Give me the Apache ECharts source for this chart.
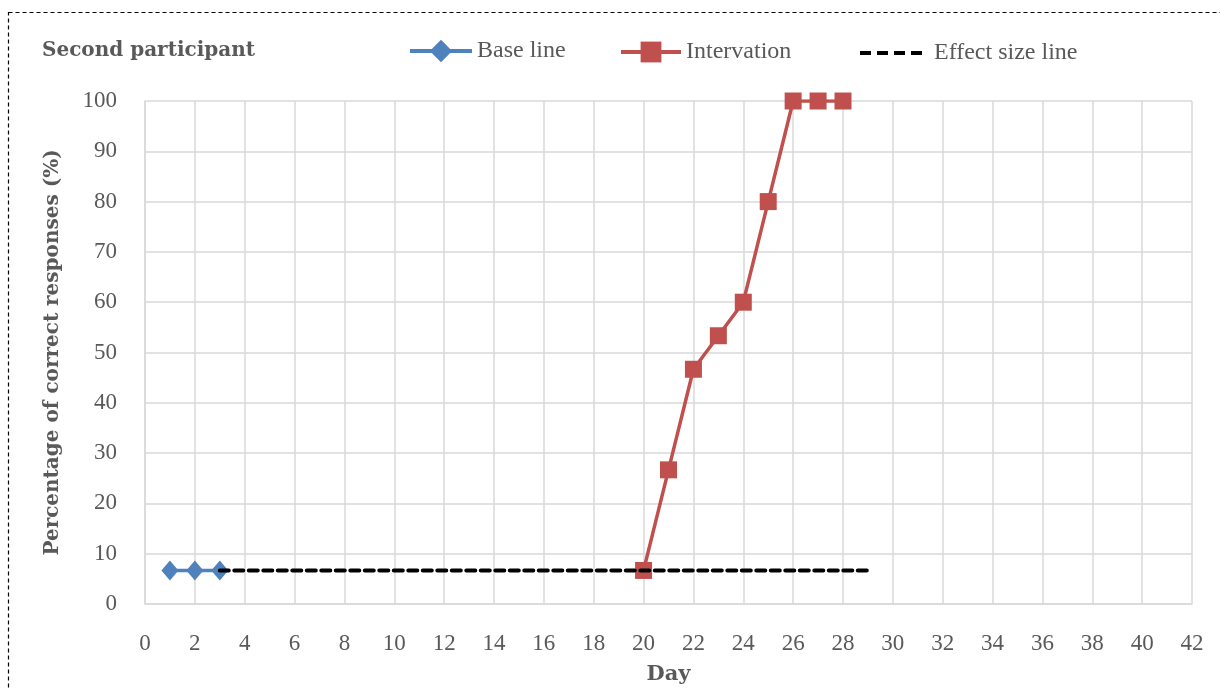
<!DOCTYPE html>
<html>
<head>
<meta charset="utf-8">
<script src="https://cdn.jsdelivr.net/npm/echarts@6/dist/echarts.min.js"></script>
<style>
    html, body { margin: 0; padding: 0; background: #fff; }
    #chart { width: 1220px; height: 688px; }
</style>
</head>
<body>
<div id="chart"></div>
<script>
    // 数据
    var baseDays = [1, 2, 3];
    var baseValues = [6.67, 6.67, 6.67];
    var interDays = [20, 21, 22, 23, 24, 25, 26, 27, 28];
    var interValues = [6.67, 26.67, 46.67, 53.33, 60, 80, 100, 100, 100];
    var effectDays = [3, 29];
    var effectValues = [6.67, 6.67];

    function pairs(xs, ys) {
        return xs.map(function (x, i) { return [x, ys[i]]; });
    }

    var font = '"Liberation Serif", "DejaVu Serif", serif';
    var wideFont = '"DejaVu Serif", serif';
    var grey = '#595959';
    var legendText = { fontFamily: font, fontSize: 24, color: grey };

    var myChart = echarts.init(document.getElementById('chart'));
    myChart.setOption({
        animation: false,
        textStyle: { fontFamily: font },
        title: {
            text: 'Second participant',
            left: 37,
            top: 36,
            textStyle: {
                fontFamily: wideFont,
                fontSize: 20,
                fontWeight: 'bold',
                color: grey
            }
        },
        legend: [
            {
                left: 403,
                top: 34,
                itemWidth: 62,
                itemHeight: 28,
                textStyle: legendText,
                data: [{ name: 'Base line', lineStyle: { width: 4 } }]
            },
            {
                left: 614,
                top: 35,
                itemWidth: 60,
                itemHeight: 26,
                textStyle: legendText,
                data: [{ name: 'Intervation', lineStyle: { width: 4 } }]
            },
            {
                left: 855,
                top: 35,
                itemWidth: 64,
                itemHeight: 26,
                textStyle: { fontFamily: font, fontSize: 24, color: grey, padding: [0, 0, 0, 6] },
                data: [{
                    name: 'Effect size line',
                    icon: 'path://M0,11h11v4h-11z M17,11h11v4h-11z M34,11h11v4h-11z M51,11h11v4h-11z M0,0h0.01v0.01h-0.01z M0,25.99h0.01v0.01h-0.01z'
                }]
            }
        ],
        graphic: [{
            type: 'rect',
            shape: { x: 8.5, y: 12.5, width: 1230, height: 700 },
            style: { fill: 'none', stroke: '#000', lineWidth: 1.2, lineDash: [4, 3] },
            silent: true
        }],
        grid: {
            left: 145,
            right: 28,
            top: 101,
            bottom: 84,
            containLabel: false,
            outerBoundsMode: 'none'
        },
        xAxis: {
            type: 'value',
            min: 0,
            max: 42,
            interval: 2,
            name: 'Day',
            nameLocation: 'middle',
            nameGap: 60,
            nameTextStyle: { fontFamily: wideFont, fontSize: 21, fontWeight: 'bold', color: grey },
            axisLine: { lineStyle: { color: '#d9d9d9', width: 1.5 } },
            axisTick: { show: false },
            axisLabel: { fontFamily: font, fontSize: 23, color: grey, margin: 28 },
            splitLine: { lineStyle: { color: '#d9d9d9', width: 1.5 } }
        },
        yAxis: {
            type: 'value',
            min: 0,
            max: 100,
            interval: 10,
            name: 'Percentage of correct responses (%)',
            nameLocation: 'middle',
            nameGap: 82,
            nameTextStyle: { fontFamily: wideFont, fontSize: 20, fontWeight: 'bold', color: grey },
            axisLine: { show: true, lineStyle: { color: '#d9d9d9', width: 1.5 } },
            axisTick: { show: false },
            axisLabel: { fontFamily: font, fontSize: 23, color: grey, margin: 28 },
            splitLine: { lineStyle: { color: '#d9d9d9', width: 1.5 } }
        },
        series: [
            {
                name: 'Base line',
                type: 'line',
                symbol: 'diamond',
                symbolSize: [17, 20],
                itemStyle: { color: '#4f81bd' },
                lineStyle: { color: '#4f81bd', width: 3.5 },
                data: pairs(baseDays, baseValues),
                z: 3
            },
            {
                name: 'Intervation',
                type: 'line',
                symbol: 'rect',
                symbolSize: 17,
                itemStyle: { color: '#c0504d' },
                lineStyle: { color: '#c0504d', width: 3.5 },
                data: pairs(interDays, interValues),
                z: 4
            },
            {
                name: 'Effect size line',
                type: 'line',
                symbol: 'none',
                itemStyle: { color: '#000' },
                lineStyle: { color: '#000', width: 4, type: [9, 5.5], cap: 'round' },
                data: pairs(effectDays, effectValues),
                z: 5
            }
        ]
    });
</script>
</body>
</html>
